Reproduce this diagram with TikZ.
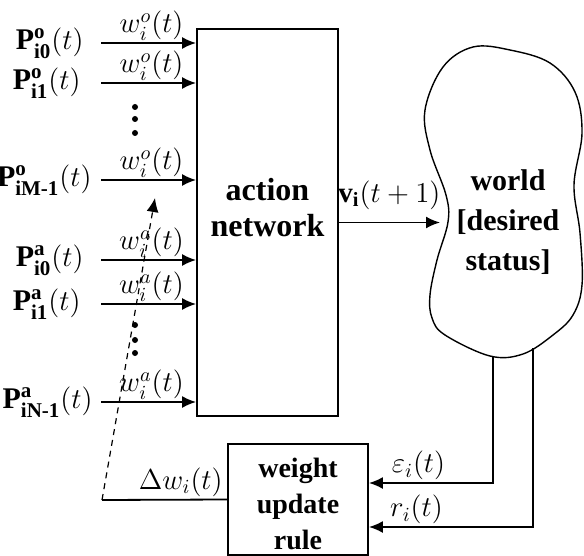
\documentclass[tikz,border=0pt]{standalone}
\usepackage{amsmath,amssymb}
\usepackage{fontspec}
\setmainfont{Liberation Serif}
\usetikzlibrary{arrows.meta,positioning}

\begin{document}
\begin{tikzpicture}[
    x=0.5pt, y=-0.5pt,
    every node/.style={font=\fontsize{14.5pt}{16pt}\selectfont, inner sep=1pt},
    block/.style={rectangle, draw=black, line width=0.9pt, inner sep=0pt},
    title/.style={font=\fontsize{15pt}{20pt}\selectfont\bfseries, align=center},
    arrow/.style={-{Latex[length=7pt,width=6pt]}, draw=black, line width=0.9pt},
    feedback/.style={arrow, dash pattern=on 3pt off 2.5pt, line width=0.6pt}
]
    \useasboundingbox (0,0) rectangle (584,556);

    \node (act) [block, minimum width=70.5pt, minimum height=193.5pt] at (267.5,222.5) {};
    \node (acttxt) [title, font=\fontsize{16pt}{18pt}\selectfont\bfseries] at (267.5,208) {action\\network};
    \node (wur) [block, minimum width=70pt, minimum height=55.5pt] at (298,499.5) {};
    \node (wurtxt) [title, font=\fontsize{14pt}{18pt}\selectfont\bfseries] at (298,504) {weight\\update\\rule};

    % world
    \draw [line width=0.7pt] plot [smooth cycle, tension=0.6] coordinates {
        (473,47) (510,50) (550,63) (575,92) (582,133) (574,185) (580,233)
        (582,285) (573,315) (553,335) (523,354) (490,356) (445,335) (432,318)
        (430,295) (437,260) (448,222) (446,195) (430,150) (425,110) (443,67)};
    \node (world) [title] at (508,222) {world\\ {[}desired\\status]};

    % inputs
    \coordinate (instart) at (101,0);
    \foreach \name/\x/\y/\pup/\pdn in {po0/86/43/o/i0, po1/83/83/o/i1, poM/94/180/o/iM-1,
                                      pa0/86/260/a/i0, pa1/83/304/a/i1, paN/95/402/a/iN-1} {
        \node (\name) [anchor=east, font=\fontsize{15pt}{16pt}\selectfont] at (\x,\y)
            {$\mathbf{P}^{\text{\bfseries\pup}}_{\text{\bfseries\pdn}}(t)$};
        \draw [arrow] (\name -| instart) -- node[above, xshift=1.5pt] {$w_i^{\pup}(t)$} (\name -| act.west);
    }
    \foreach \y in {107,119,133,325,340,353}
        \fill (135,\y) circle (1.5pt);

    % output
    \coordinate (win) at (440,222.5);
    \draw [arrow] (act.east) -- node[above=5pt] {$\mathbf{v}_{\mathbf{i}}(t+1)$} (win);

    % feedback
    \coordinate (eps) at (493,356);
    \coordinate (rew) at (533,348);
    \draw [arrow] (eps) |- node[pos=0.8, above] {$\varepsilon_i(t)$} ([yshift=8.25pt]wur.east);
    \draw [arrow] (rew) |- node[pos=0.855, above] {$r_i(t)$} ([yshift=-13.75pt]wur.east);

    \coordinate (dw) at (102,500);
    \coordinate (tip) at (155,198);
    \draw [line width=0.9pt] (wur.west) -- node[above, pos=0.37] {$\Delta w_i(t)$} (dw);
    \draw [feedback] (dw) -- (tip);
\end{tikzpicture}
\end{document}
